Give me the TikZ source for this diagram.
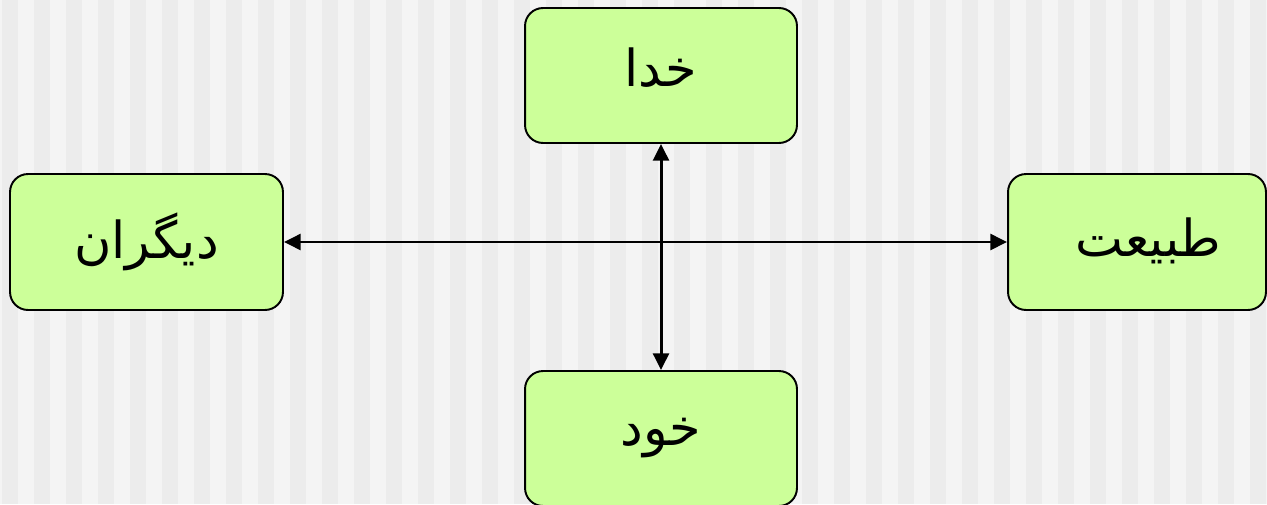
\documentclass[tikz,border=0pt]{standalone}
\usepackage{fontspec}
\usetikzlibrary{arrows.meta}
\newfontfamily\arabicfont[Script=Arabic]{DejaVu Sans}
\TeXXeTstate=1
\definecolor{stripelight}{HTML}{F4F4F4}
\definecolor{stripedark}{HTML}{ECECEC}
\definecolor{boxgreen}{HTML}{CCFF99}
\newcommand{\rtltext}[3]{\hspace*{#1}\raisebox{#2}{\beginR #3\endR}}
\tikzset{
  box/.style={draw=black, line width=1.1pt, fill=boxgreen, rounded corners=0.36cm,
    inner sep=0pt, font=\arabicfont\fontsize{29}{33}\selectfont},
  link/.style={line width=1.7pt, {Triangle[length=9.5pt,width=9pt]}-{Triangle[length=9.5pt,width=9pt]}}
}
\begin{document}
\begin{tikzpicture}[x=0.02cm,y=-0.02cm]
\useasboundingbox (0,0) rectangle (1267,504);
\clip (0,0) rectangle (1267,504);
\fill[stripelight] (0,0) rectangle (1267,504);
\foreach \sx in {2,34,...,1266} {
  \fill[stripedark] (\sx,0) rectangle ++(16,504);
}
\node[box, minimum width=5.44cm, minimum height=2.7cm] (god) at (661,75.5) {\rtltext{0pt}{9pt}{خدا}};
\node[box, minimum width=5.46cm, minimum height=2.72cm] (others) at (146.5,242) {\rtltext{0pt}{4pt}{دیگران}};
\node[box, minimum width=5.16cm, minimum height=2.72cm] (nature) at (1137,242) {\rtltext{0.45cm}{6pt}{طبیعت}};
\node[box, minimum width=5.44cm, minimum height=2.7cm] (self) at (661,438.5) {\rtltext{0pt}{-2pt}{خود}};
\draw[link] (others.east) -- (nature.west);
\draw[link] (god.south) -- (self.north);
\end{tikzpicture}
\end{document}
